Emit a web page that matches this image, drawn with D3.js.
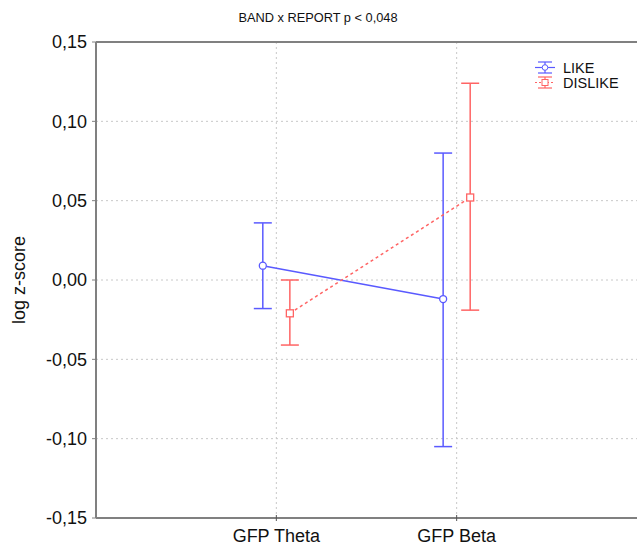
<!DOCTYPE html>
<html>
<head>
<meta charset="utf-8">
<script src="https://cdn.jsdelivr.net/npm/d3@7"></script>
<style>
  body { margin: 0; background: #fff; }
  text { font-family: Arial, "Liberation Sans", sans-serif; fill: #111; }
</style>
</head>
<body>
<svg id="chart" width="637" height="547"></svg>
<script>
// categories and series
const bands = ['GFP Theta', 'GFP Beta'];
const likeMean = [0.009, -0.012];
const likeLow = [-0.018, -0.105];
const likeHigh = [0.036, 0.080];
const dislikeMean = [-0.021, 0.052];
const dislikeLow = [-0.041, -0.019];
const dislikeHigh = [0.0, 0.124];
const yTicks = [-0.15, -0.10, -0.05, 0.0, 0.05, 0.10, 0.15];

const margin = { top: 42, right: 0, bottom: 29, left: 96 };
const width = 637 - margin.left - margin.right;
const height = 547 - margin.top - margin.bottom;

const svg = d3.select('#chart');
const g = svg.append('g')
  .attr('transform', 'translate(' + margin.left + ',' + margin.top + ')');

// x is position index (categories at 1 and 2)
const x = d3.scaleLinear().domain([0, 3]).range([0, width]);
const y = d3.scaleLinear().domain([-0.15, 0.15]).range([height, 0]);
const fmt = d => d3.format('.2f')(d).replace('.', ',').replace('−', '-');

// grid
g.append('g').selectAll('line').data(yTicks.slice(1, -1)).enter().append('line')
  .attr('x1', 0).attr('x2', width)
  .attr('y1', d => y(d)).attr('y2', d => y(d))
  .attr('stroke', '#c8c8c8').attr('stroke-dasharray', '2,3');
g.append('g').selectAll('line').data(bands).enter().append('line')
  .attr('x1', (d, i) => x(i + 1)).attr('x2', (d, i) => x(i + 1))
  .attr('y1', 0).attr('y2', height)
  .attr('stroke', '#c8c8c8').attr('stroke-dasharray', '2,3');

// axes frame
const axisColor = '#808080';
g.append('line').attr('x1', 0).attr('x2', width).attr('y1', 0).attr('y2', 0)
  .attr('stroke', axisColor).attr('stroke-width', 2);
g.append('line').attr('x1', 0).attr('x2', width).attr('y1', height).attr('y2', height)
  .attr('stroke', axisColor).attr('stroke-width', 2);
g.append('line').attr('x1', 0).attr('x2', 0).attr('y1', 0).attr('y2', height)
  .attr('stroke', axisColor).attr('stroke-width', 2);

// y axis labels
const yAxis = g.append('g');
yAxis.selectAll('line').data(yTicks).enter().append('line')
  .attr('x1', -4).attr('x2', 0).attr('y1', d => y(d)).attr('y2', d => y(d))
  .attr('stroke', axisColor);
yAxis.selectAll('text').data(yTicks).enter().append('text')
  .attr('x', -9).attr('y', d => y(d)).attr('dy', '0.35em')
  .attr('text-anchor', 'end').attr('font-size', 18)
  .text(fmt);

// x axis labels
const xAxis = g.append('g');
xAxis.selectAll('line').data(bands).enter().append('line')
  .attr('x1', (d, i) => x(i + 1)).attr('x2', (d, i) => x(i + 1))
  .attr('y1', height - 3).attr('y2', height + 3)
  .attr('stroke', '#555');
xAxis.selectAll('text').data(bands).enter().append('text')
  .attr('x', (d, i) => x(i + 1)).attr('y', height + 24)
  .attr('text-anchor', 'middle').attr('font-size', 18)
  .text(d => d);

// titles
svg.append('text').attr('x', 318).attr('y', 22)
  .attr('text-anchor', 'middle').attr('font-size', 12.8)
  .text('BAND x REPORT p < 0,048');
svg.append('text')
  .attr('transform', 'translate(25,' + (margin.top + y(0)) + ') rotate(-90)')
  .attr('text-anchor', 'middle').attr('font-size', 18)
  .text('log z-score');

// series
const series = [
  { name: 'LIKE', mean: likeMean, low: likeLow, high: likeHigh, color: '#5a5aff', offset: -0.075, dash: null, shape: 'circle' },
  { name: 'DISLIKE', mean: dislikeMean, low: dislikeLow, high: dislikeHigh, color: '#ff6464', offset: 0.075, dash: '3,3', shape: 'square' }
];

const capW = 9;
series.forEach(s => {
  const sg = g.append('g');
  const pts = bands.map((b, i) => ({ xi: i + 1 + s.offset, m: s.mean[i], lo: s.low[i], hi: s.high[i] }));

  // error bars
  sg.selectAll('line.err').data(pts).enter().append('line')
    .attr('x1', d => x(d.xi)).attr('x2', d => x(d.xi))
    .attr('y1', d => y(d.lo)).attr('y2', d => y(d.hi))
    .attr('stroke', s.color).attr('stroke-width', 1.5);
  sg.selectAll('line.capHi').data(pts).enter().append('line')
    .attr('x1', d => x(d.xi) - capW).attr('x2', d => x(d.xi) + capW)
    .attr('y1', d => y(d.hi)).attr('y2', d => y(d.hi))
    .attr('stroke', s.color).attr('stroke-width', 1.5);
  sg.selectAll('line.capLo').data(pts).enter().append('line')
    .attr('x1', d => x(d.xi) - capW).attr('x2', d => x(d.xi) + capW)
    .attr('y1', d => y(d.lo)).attr('y2', d => y(d.lo))
    .attr('stroke', s.color).attr('stroke-width', 1.5);

  // connecting line
  sg.append('path').datum(pts)
    .attr('d', d3.line().x(d => x(d.xi)).y(d => y(d.m)))
    .attr('fill', 'none').attr('stroke', s.color).attr('stroke-width', 1.5)
    .attr('stroke-dasharray', s.dash);

  // markers
  if (s.shape === 'circle') {
    sg.selectAll('circle').data(pts).enter().append('circle')
      .attr('cx', d => x(d.xi)).attr('cy', d => y(d.m)).attr('r', 3.5)
      .attr('fill', '#fff').attr('stroke', s.color).attr('stroke-width', 1.3);
  } else {
    sg.selectAll('rect').data(pts).enter().append('rect')
      .attr('x', d => x(d.xi) - 3.5).attr('y', d => y(d.m) - 3.5)
      .attr('width', 7).attr('height', 7)
      .attr('fill', '#fff').attr('stroke', s.color).attr('stroke-width', 1.3);
  }
});

// legend
const legend = svg.append('g').attr('transform', 'translate(535,62)');
series.forEach((s, i) => {
  const lg = legend.append('g').attr('transform', 'translate(0,' + i * 15 + ')');
  lg.append('line').attr('x1', 10).attr('x2', 10).attr('y1', 0).attr('y2', 11)
    .attr('stroke', s.color).attr('stroke-width', 1.2);
  lg.append('line').attr('x1', 3).attr('x2', 17).attr('y1', 0).attr('y2', 0)
    .attr('stroke', s.color).attr('stroke-width', 1.2);
  lg.append('line').attr('x1', 3).attr('x2', 17).attr('y1', 11).attr('y2', 11)
    .attr('stroke', s.color).attr('stroke-width', 1.2);
  lg.append('line').attr('x1', 0).attr('x2', 20).attr('y1', 5.5).attr('y2', 5.5)
    .attr('stroke', s.color).attr('stroke-width', 1.2)
    .attr('stroke-dasharray', s.dash ? '2,2' : null);
  if (s.shape === 'circle') {
    lg.append('circle').attr('cx', 10).attr('cy', 5.5).attr('r', 2.8)
      .attr('fill', '#fff').attr('stroke', s.color);
  } else {
    lg.append('rect').attr('x', 7).attr('y', 2.5).attr('width', 6).attr('height', 6)
      .attr('fill', '#fff').attr('stroke', s.color);
  }
  lg.append('text').attr('x', 28).attr('y', 6).attr('dy', '0.35em')
    .attr('font-size', 14.5).text(s.name);
});
</script>
</body>
</html>
